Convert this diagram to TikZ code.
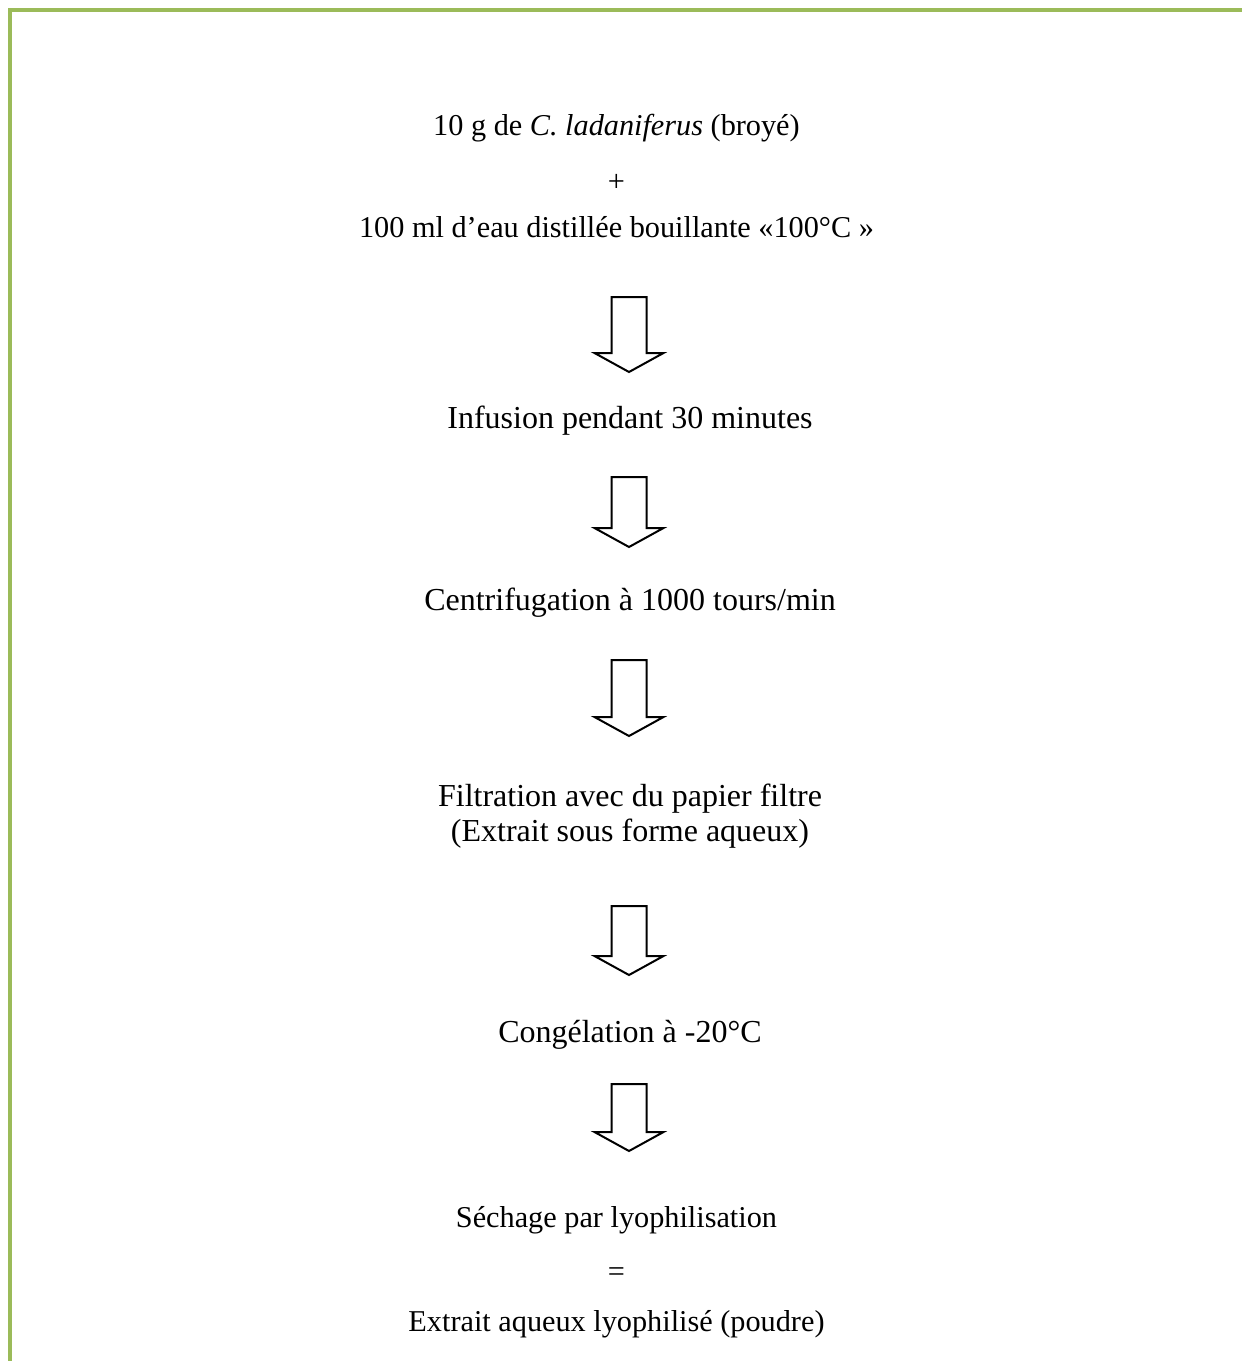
\documentclass[tikz,border=0pt]{standalone}
\usepackage{fontspec}
\setmainfont{Liberation Serif}
\definecolor{framegreen}{HTML}{9BBB59}
% hollow block arrow pointing down, drawn from a named start point
\newcommand\blockarrow[2]{%
  \draw[blockarrow,shift={(#1)}]
    (-17.5,0) -- (17.5,0) -- (17.5,#2-19) -- (34.5,#2-19) -- (0,#2)
    -- (-34.5,#2-19) -- (-17.5,#2-19) -- cycle;}
\begin{document}
\begin{tikzpicture}[x=0.375pt,y=-0.375pt,
  frame/.style={draw=framegreen,line width=1.5pt},
  blockarrow/.style={draw=black,line width=0.75pt,fill=white,line join=miter},
  stage/.style={anchor=base,inner sep=0pt,align=center,
    font=\fontsize{12pt}{13.125pt}\selectfont},
  smallstage/.style={stage,font=\fontsize{11.35pt}{13pt}\selectfont}]
\useasboundingbox (0,0) rectangle (1242,1361);
\fill[white] (0,0) rectangle (1242,1361);
% page frame (top and left edges)
\draw[frame] (10,1361) -- (10,10) -- (1242,10);

% process steps
\node[smallstage] (t1) at (616.5,135) {10 g de \textit{C. ladaniferus} (broyé)};
\node[smallstage] (plus) at (616.5,191) {+};
\node[smallstage] (t2) at (616.5,237) {100 ml d’eau distillée bouillante «100°C »};
\node[stage] (t3) at (630,428) {Infusion pendant 30 minutes};
\node[stage] (t4) at (630,610) {Centrifugation à 1000 tours/min};
\node[stage,anchor=north] (t5) at (630,783) {Filtration avec du papier filtre\\(Extrait sous forme aqueux)};
\node[stage] (t6) at (630,1042) {Congélation à -20°C};
\node[smallstage] (t7) at (616.5,1227) {Séchage par lyophilisation};
\node[smallstage] (eq) at (616.5,1281) {=};
\node[smallstage] (t8) at (616.5,1331) {Extrait aqueux lyophilisé (poudre)};

% arrows between steps
\coordinate (a1) at (629,297);
\coordinate (a2) at (629,477);
\coordinate (a3) at (629,660);
\coordinate (a4) at (629,906);
\coordinate (a5) at (629,1084);
\blockarrow{a1}{75}
\blockarrow{a2}{70}
\blockarrow{a3}{76}
\blockarrow{a4}{69}
\blockarrow{a5}{67}
\end{tikzpicture}
\end{document}
